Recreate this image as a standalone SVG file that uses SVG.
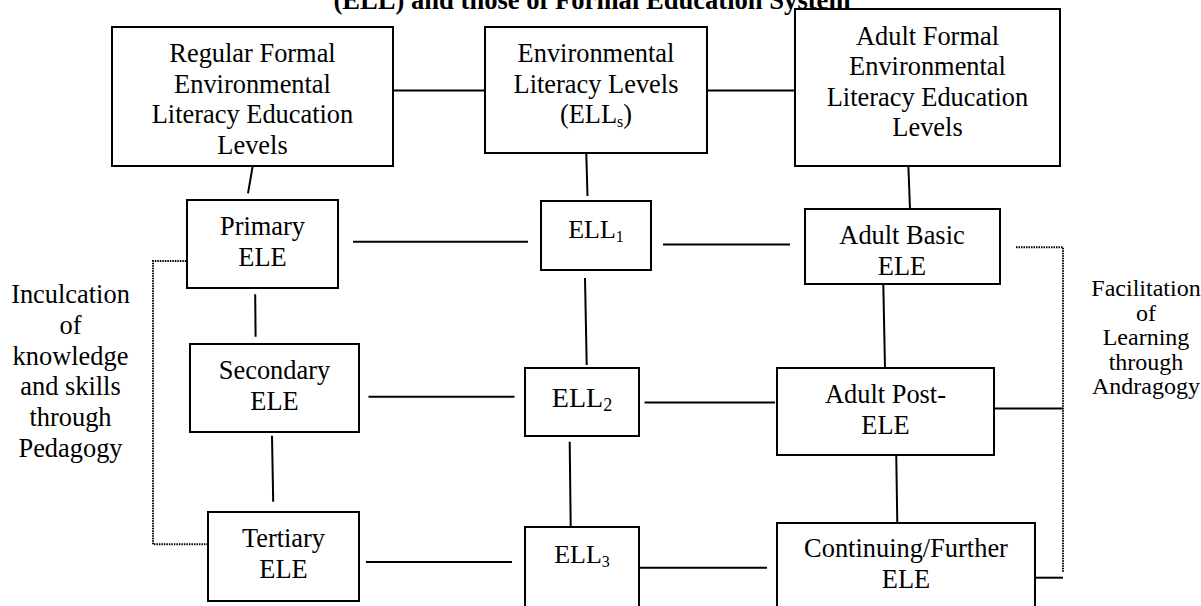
<svg xmlns="http://www.w3.org/2000/svg" width="1201" height="606" viewBox="0 0 1201 606">
<style>
text{font-family:"Liberation Serif","Times New Roman",serif;fill:#000;text-anchor:middle}
.t{font-size:26.4px}
.s{font-size:24px}
.title{font-size:26.6px;font-weight:bold}
.box{fill:#fff;stroke:#000;stroke-width:2}
.ln{fill:none;stroke:#000;stroke-width:2}
.dot{fill:none;stroke:#000;stroke-width:2;stroke-dasharray:1.5 1}
</style>
<rect width="1201" height="606" fill="#fff"/>
<text class="title" x="592" y="9">(ELL) and those of Formal Education System</text>
<g id="connectors">
<path class="ln" d="M386.5 90.5H485"/>
<path class="ln" d="M707 90.5H799"/>
<path class="ln" d="M252.6 166.7L248 193.3"/>
<path class="ln" d="M586.3 154L587.5 196"/>
<path class="ln" d="M908.4 166.7L910 209"/>
<path class="ln" d="M353 241.7H528"/>
<path class="ln" d="M663 244.5H790"/>
<path class="ln" d="M255.2 294.3L255.6 336.7"/>
<path class="ln" d="M585 278L586.7 365"/>
<path class="ln" d="M883.3 284L885 368"/>
<path class="ln" d="M368.5 396.7H514.5"/>
<path class="ln" d="M644.5 402.5H775"/>
<path class="ln" d="M993.3 408.5H1063"/>
<path class="ln" d="M272 435.7L273.2 501.7"/>
<path class="ln" d="M569.7 441.7L570.7 527"/>
<path class="ln" d="M896 440L897.3 523"/>
<path class="ln" d="M366 562H512"/>
<path class="ln" d="M640 567.7H767"/>
<path class="ln" d="M1035 577.7H1063"/>
<path class="dot" d="M191.3 261H153V544.3H207"/>
<path class="dot" d="M1016 247.3H1063V572"/>
</g>
<g id="regular-formal">
<rect class="box" x="112" y="27" width="281" height="139"/>
<text class="t" x="252.5" y="62">Regular Formal</text>
<text class="t" x="252.5" y="92.5">Environmental</text>
<text class="t" x="252.5" y="123">Literacy Education</text>
<text class="t" x="252.5" y="153.5">Levels</text>
</g>
<g id="ell-levels">
<rect class="box" x="485" y="27" width="222" height="126"/>
<text class="t" x="596" y="62">Environmental</text>
<text class="t" x="596" y="92.5">Literacy Levels</text>
<text class="t" x="596" y="123">(ELL<tspan font-size="16" dy="4">s</tspan><tspan dy="-4">)</tspan></text>
</g>
<g id="adult-formal">
<rect class="box" x="795" y="9" width="265" height="157"/>
<text class="t" x="927.5" y="44.5">Adult Formal</text>
<text class="t" x="927.5" y="75">Environmental</text>
<text class="t" x="927.5" y="105.5">Literacy Education</text>
<text class="t" x="927.5" y="136">Levels</text>
</g>
<g id="primary">
<rect class="box" x="187" y="200" width="151" height="88"/>
<text class="t" x="262.5" y="235">Primary</text>
<text class="t" x="262.5" y="266">ELE</text>
</g>
<g id="secondary">
<rect class="box" x="190" y="344" width="169" height="88"/>
<text class="t" x="274.5" y="379">Secondary</text>
<text class="t" x="274.5" y="410">ELE</text>
</g>
<g id="tertiary">
<rect class="box" x="208" y="512" width="151" height="89"/>
<text class="t" x="283.5" y="546.5">Tertiary</text>
<text class="t" x="283.5" y="577.5">ELE</text>
</g>
<g id="ell1">
<rect class="box" x="541" y="201" width="110" height="69"/>
<text x="596" y="237.5" font-size="26">ELL<tspan font-size="16" dy="4">1</tspan></text>
</g>
<g id="ell2">
<rect class="box" x="525" y="368" width="114" height="68"/>
<text x="582" y="406.5" font-size="28">ELL<tspan font-size="18" dy="4">2</tspan></text>
</g>
<g id="ell3">
<rect class="box" x="525" y="527" width="114" height="100"/>
<text x="582" y="562.5" font-size="26">ELL<tspan font-size="16" dy="4">3</tspan></text>
</g>
<g id="adult-basic">
<rect class="box" x="805" y="209" width="195" height="75"/>
<text class="t" x="902" y="244">Adult Basic</text>
<text class="t" x="902" y="275">ELE</text>
</g>
<g id="adult-post">
<rect class="box" x="777" y="368" width="217" height="87"/>
<text class="t" x="885.5" y="403">Adult Post-</text>
<text class="t" x="885.5" y="434">ELE</text>
</g>
<g id="continuing">
<rect class="box" x="777" y="523" width="258" height="100"/>
<text class="t" x="906" y="557">Continuing/Further</text>
<text class="t" x="906" y="588">ELE</text>
</g>
<g id="pedagogy-label">
<text class="t" x="70.5" y="303">Inculcation</text>
<text class="t" x="70.5" y="334">of</text>
<text class="t" x="70.5" y="364.5">knowledge</text>
<text class="t" x="70.5" y="395">and skills</text>
<text class="t" x="70.5" y="426">through</text>
<text class="t" x="70.5" y="457">Pedagogy</text>
</g>
<g id="andragogy-label">
<text class="s" x="1146" y="296">Facilitation</text>
<text class="s" x="1146" y="320.5">of</text>
<text class="s" x="1146" y="345">Learning</text>
<text class="s" x="1146" y="369.5">through</text>
<text class="s" x="1146" y="394">Andragogy</text>
</g>
</svg>
